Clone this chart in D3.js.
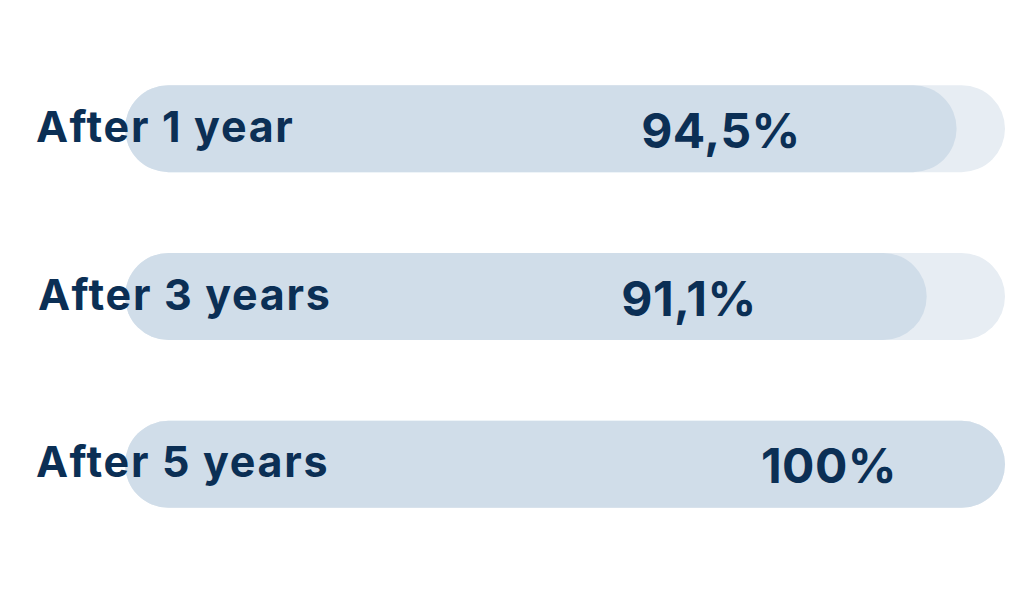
<!DOCTYPE html>
<html><head><meta charset="utf-8">
<script src="https://cdn.jsdelivr.net/npm/d3@7"></script>
<style>html,body{margin:0;padding:0;background:#fff;}svg{display:block;}</style>
</head><body>
<svg id="chart" width="1024" height="600"></svg>
<script>
const categories = ["After 1 year", "After 3 years", "After 5 years"];
const values = [94.5, 91.1, 100];
const valueLabels = ["94,5%", "91,1%", "100%"];
const domainMax = 100;

const svg = d3.select("#chart");
const x = d3.scaleLinear().domain([0, domainMax]).range([125, 1005]);
const y = d3.scaleBand().domain(categories).range([85, 508]).paddingInner(0.48).paddingOuter(0);
const bh = 87;
const textColor = "#0b2f55";

const g = svg.selectAll("g.row").data(categories).join("g").attr("class","row")
  .attr("transform", d => `translate(0,${y(d) + y.bandwidth()/2})`);

g.append("rect")
  .attr("x", x(0)).attr("y", -bh/2)
  .attr("width", x(domainMax) - x(0)).attr("height", bh)
  .attr("rx", bh/2).attr("fill", "#e7edf3");

g.append("rect")
  .attr("x", x(0)).attr("y", -bh/2)
  .attr("width", (d,i) => x(values[i]) - x(0)).attr("height", bh)
  .attr("rx", bh/2).attr("fill", "#d0dde9");

g.append("text")
  .attr("x", (d,i) => i === 1 ? 38 : 36).attr("y", 13)
  .attr("font-family", "Inter, sans-serif").attr("font-weight", 700)
  .attr("font-size", 43).attr("letter-spacing", 1.7).attr("fill", textColor)
  .text(d => d);

const labelCenter = [721, 689, 829];
g.append("text")
  .attr("x", (d,i) => labelCenter[i]).attr("y", 19)
  .attr("text-anchor", "middle")
  .attr("font-family", "Inter, sans-serif").attr("font-weight", 700)
  .attr("font-size", 48).attr("letter-spacing", 0.5).attr("fill", textColor)
  .text((d,i) => valueLabels[i]);
</script>
</body></html>
